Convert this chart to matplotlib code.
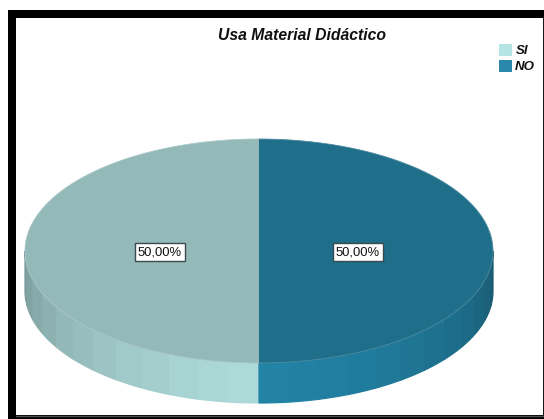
import numpy as np
import matplotlib
matplotlib.use('Agg')
from matplotlib import pyplot as plt
from matplotlib.patches import Polygon, Rectangle

title = 'Usa Material Didáctico'
categories = ['SI', 'NO']
values = [50.0, 50.0]

top_colors = ['#94b9b9', '#1f6e8a']
front_colors = ['#aedada', '#2283a6']
edge_colors = ['#789898', '#195a70']
legend_colors = ['#b4e4e4', '#2a88ac']

W, H = 544, 419
cx, cy, rx, ry, depth = 259, 251, 234, 112, 40
step = 7.5


def ell(t):
    # t in degrees, 0 = straight up, going counter clockwise on screen
    r = np.radians(t)
    return cx - rx * np.sin(r), cy - ry * np.cos(r)


def mix(c1, c2, f):
    a = np.array(matplotlib.colors.to_rgb(c1))
    b = np.array(matplotlib.colors.to_rgb(c2))
    return tuple(a + (b - a) * f)


fig = plt.figure(figsize=(W / 100, H / 100), dpi=100)
ax = fig.add_axes([0, 0, 1, 1])
ax.set_xlim(0, W)
ax.set_ylim(H, 0)
ax.axis('off')

# marco negro
ax.add_patch(Rectangle((8, 10), W - 8, H - 10, fc='black', ec='none', zorder=0))
ax.add_patch(Rectangle((16, 18), W - 17, 397, fc='white', ec='none', zorder=1))
ax.plot([543.5, 543.5], [18, 415], color='#707070', lw=1, zorder=2)
ax.plot([16, 544], [415.5, 415.5], color='#505050', lw=1, zorder=2)

total = sum(values)
start = 0
for i, v in enumerate(values):
    end = start + v / total * 360
    # lado visible, en tiras
    for a in np.arange(start, end, step):
        b = a + step
        if np.cos(np.radians(a + step / 2)) > 0:
            continue
        f = min(abs(abs(a + step / 2) - 180) / 90, 1) ** 1.4
        col = mix(front_colors[i], edge_colors[i], f)
        ts = np.linspace(a, b, 8)
        xs, ys = ell(ts)
        pts = np.column_stack([np.r_[xs, xs[::-1]], np.r_[ys, ys[::-1] + depth]])
        ax.add_patch(Polygon(pts, fc=col, ec=col, lw=0.9, zorder=3))
    # tapa
    ts = np.linspace(start, end, 200)
    xs, ys = ell(ts)
    pts = np.column_stack([np.r_[cx, xs], np.r_[cy, ys]])
    ax.add_patch(Polygon(pts, fc=top_colors[i], ec='none', zorder=4))
    ax.plot(xs, ys, color=mix(top_colors[i], 'white', 0.2), lw=0.6, zorder=5)
    # etiqueta
    mid = np.radians((start + end) / 2)
    ax.text(cx - rx * 0.423 * np.sin(mid), cy + 1,
            ('%.2f%%' % (v / total * 100)).replace('.', ','),
            ha='center', va='center', fontsize=9.4, family='Liberation Sans', color='#111111',
            bbox=dict(boxstyle='square,pad=0.2', fc='white', ec='#3c4a50', lw=1), zorder=6)
    start = end

ax.text(301.5, 36, title, ha='center', va='center', fontsize=11.3, family='Liberation Sans',
        weight='bold', style='italic', color='#111111', zorder=6)

for i, c in enumerate(categories):
    y = 44 + i * 16
    ax.add_patch(Rectangle((499, y), 13, 12.5, fc=legend_colors[i], ec='none', zorder=6))
    ax.text(515 if c == 'NO' else 516, y + 6.5, c, ha='left', va='center', fontsize=9.5,
            family='Liberation Sans', weight='bold', style='italic', color='#111111', zorder=6)

fig.savefig('out.png', dpi=100)
